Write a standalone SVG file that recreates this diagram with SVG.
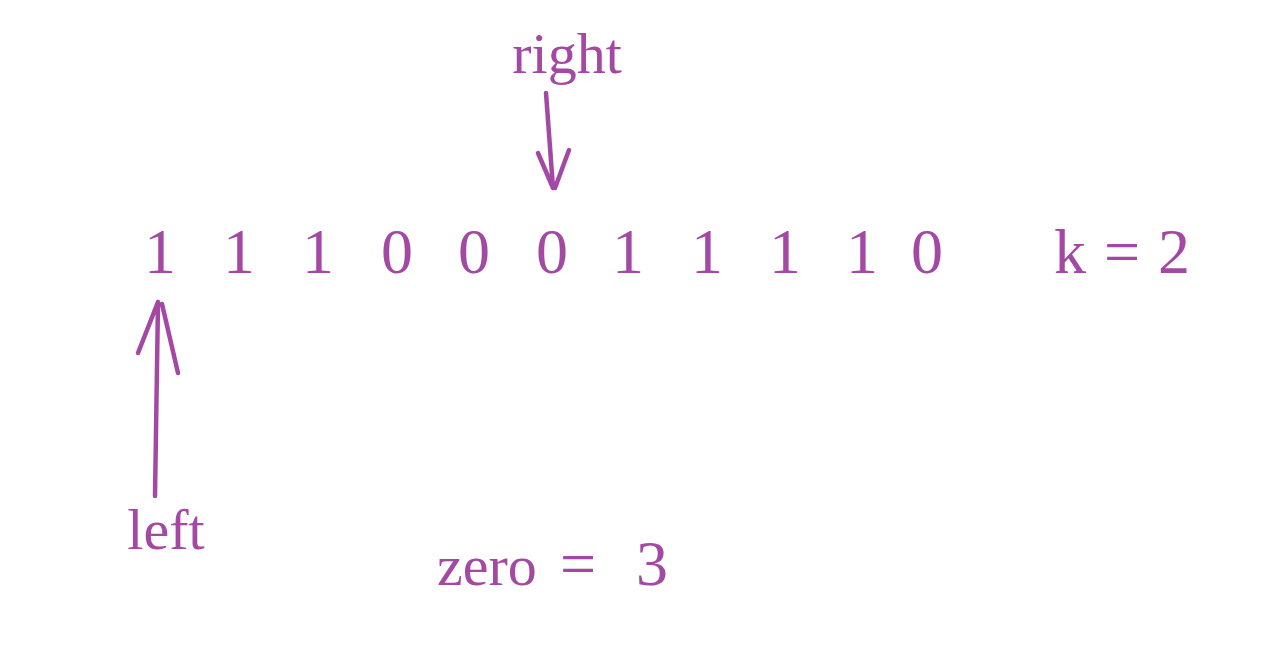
<svg xmlns="http://www.w3.org/2000/svg" width="1280" height="647" viewBox="0 0 1280 647">
<style>
text{font-family:"Liberation Serif","DejaVu Serif",serif;fill:#a349a4}
.d{font-size:64px;text-anchor:middle}
.l{font-size:58px}
.c{fill:none;stroke:#a349a4;stroke-width:4.5;stroke-linecap:round;stroke-linejoin:round}
</style>
<rect width="1280" height="647" fill="#fff"/>
<g id="digits">
<text class="d" x="160" y="273">1</text>
<text class="d" x="239" y="273">1</text>
<text class="d" x="318" y="273">1</text>
<text class="d" x="397" y="273">0</text>
<text class="d" x="474" y="273">0</text>
<text class="d" x="552" y="273">0</text>
<text class="d" x="628" y="273">1</text>
<text class="d" x="707" y="273">1</text>
<text class="d" x="785" y="273">1</text>
<text class="d" x="862" y="273">1</text>
<text class="d" x="927" y="273">0</text>
</g>
<g id="k">
<text class="d" x="1070" y="273">k</text>
<text class="d" x="1122" y="273" font-size="66">=</text>
<text class="d" x="1174" y="273">2</text>
</g>
<g id="right"><text class="l" x="567" y="73" text-anchor="middle">right</text></g>
<g id="left"><text class="l" x="166" y="549" text-anchor="middle">left</text></g>
<g id="zero">
<text class="l" x="437" y="585" font-size="60">zero</text>
<text class="d" x="578" y="585" font-size="64">=</text>
<text class="d" x="652" y="585">3</text>
</g>
<g id="connectors">
<path class="c" d="M546 93 L553 188 M538 153 L553 188 M569 150 L555 188"/>
<path class="c" d="M155 496 L158 302 M138 353 L158 302 M162 304 L178 373"/>
</g>
</svg>
